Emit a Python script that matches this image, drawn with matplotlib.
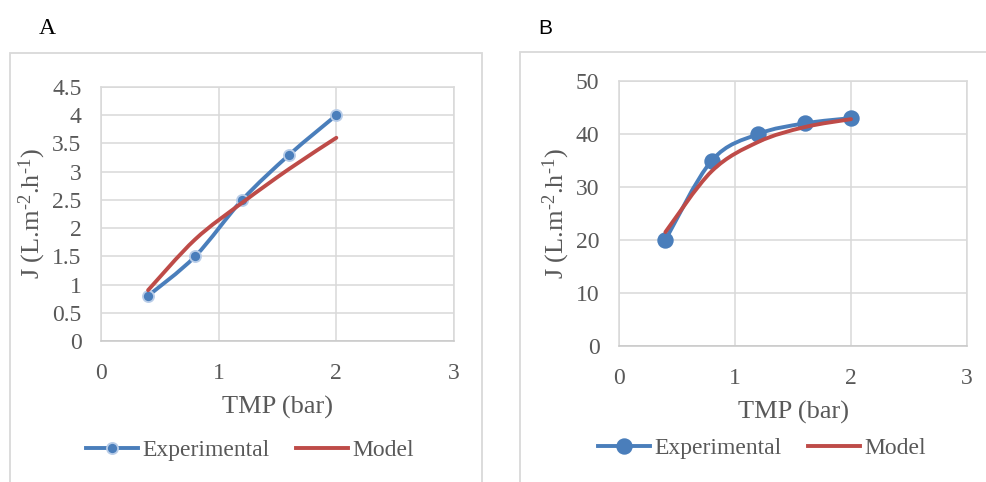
import matplotlib
matplotlib.use("Agg")
import matplotlib.pyplot as plt
from matplotlib.path import Path
from matplotlib.patches import PathPatch, Rectangle
from matplotlib.lines import Line2D

# data
tmp = [0.4, 0.8, 1.2, 1.6, 2.0]
flux_exp_a = [0.8, 1.5, 2.5, 3.3, 4.0]
flux_model_a = [0.9, 1.8, 2.45, 3.05, 3.6]
flux_exp_b = [20, 35, 40, 42, 43]
flux_model_b = [21.5, 33, 38.5, 41.3, 42.8]

yticks_a = [0, 0.5, 1, 1.5, 2, 2.5, 3, 3.5, 4, 4.5]
yticklabels_a = ["0", "0.5", "1", "1.5", "2", "2.5", "3", "3.5", "4", "4.5"]
yticks_b = [0, 10, 20, 30, 40, 50]
xticks = [0, 1, 2, 3]

blue = "#4a7ebb"
red = "#be4b48"
grid_gray = "#d9d9d9"
text_gray = "#595959"

plt.rcParams["font.family"] = ["Liberation Serif", "DejaVu Serif"]
plt.rcParams["mathtext.fontset"] = "custom"
plt.rcParams["mathtext.rm"] = "Liberation Serif"
plt.rcParams["mathtext.it"] = "Liberation Serif:italic"

W, H = 986, 482
fig = plt.figure(figsize=(W / 100, H / 100), dpi=100)


def px_box(l, t, r, b):
    # pixel box -> figure fraction [left, bottom, width, height]
    return [l / W, 1 - b / H, (r - l) / W, (b - t) / H]


def smooth_path(xs, ys):
    # excel style smoothed line, catmull-rom segments as cubic beziers
    pts = list(zip(xs, ys))
    n = len(pts)
    verts = [pts[0]]
    codes = [Path.MOVETO]
    for i in range(n - 1):
        p0 = pts[max(i - 1, 0)]
        p1 = pts[i]
        p2 = pts[i + 1]
        p3 = pts[min(i + 2, n - 1)]
        c1 = (p1[0] + (p2[0] - p0[0]) / 6, p1[1] + (p2[1] - p0[1]) / 6)
        c2 = (p2[0] - (p3[0] - p1[0]) / 6, p2[1] - (p3[1] - p1[1]) / 6)
        verts += [c1, c2, p2]
        codes += [Path.CURVE4] * 3
    return Path(verts, codes)


def panel(rect, frame, exp, model, yticks, ylabels, ymax, msize, medge,
          ylab_x, xlab_y, ypad, xpad, leg_xy):
    # outer chart frame
    l, t, r, b = frame
    fig.patches.append(Rectangle((l / W, 1 - b / H), (r - l) / W, (b - t) / H,
                                 transform=fig.transFigure, fill=False,
                                 edgecolor=grid_gray, lw=1.3, clip_on=False))
    ax = fig.add_axes(px_box(*rect))
    ax.set_xlim(0, 3)
    ax.set_ylim(0, ymax)
    ax.set_xticks(xticks)
    ax.set_yticks(yticks)
    ax.set_yticklabels(ylabels)
    ax.grid(True, color=grid_gray, lw=1.1)
    ax.set_axisbelow(True)
    for s in ax.spines.values():
        s.set_color(grid_gray)
        s.set_linewidth(1.1)
    ax.spines["bottom"].set_color("#c8c8c8")
    ax.tick_params(length=0, labelsize=17, colors=text_gray)
    ax.tick_params(axis="y", pad=ypad)
    ax.tick_params(axis="x", pad=xpad)

    lw = 2.8
    ax.add_patch(PathPatch(smooth_path(tmp, exp), facecolor="none",
                           edgecolor=blue, lw=lw, capstyle="round", zorder=3))
    ax.plot(tmp, exp, "o", ms=msize, color=blue, mec=medge, mew=1.3,
            zorder=4, clip_on=False)
    ax.add_patch(PathPatch(smooth_path(tmp, model), facecolor="none",
                           edgecolor=red, lw=lw, capstyle="round", zorder=5))

    ax.set_xlabel("TMP (bar)", fontsize=19, color=text_gray, va="center")
    ax.xaxis.set_label_coords(0.5, xlab_y)
    ax.set_ylabel(r"J (L.m$^{\text{-}2}$.h$^{\text{-}1}$)", fontsize=19,
                  color=text_gray, va="center")
    ax.yaxis.set_label_coords(ylab_x, 0.5)

    handles = [Line2D([], [], color=blue, lw=lw, marker="o", ms=msize,
                      mec=medge, mew=1.3),
               Line2D([], [], color=red, lw=lw)]
    fig.legend(handles, ["Experimental", "Model"], loc="center",
               bbox_to_anchor=(leg_xy[0] / W, 1 - leg_xy[1] / H), ncol=2,
               frameon=False, fontsize=17, handlelength=2.2,
               handletextpad=0.2, columnspacing=1.1, labelcolor=text_gray)
    return ax


ax_a = panel((101, 87, 454, 341), (10, 53, 482, 495), flux_exp_a,
             flux_model_a, yticks_a, yticklabels_a, 4.5, 8, "#b9cde8",
             -0.195, -0.26, 14, 16, (250, 450))
ax_b = panel((619, 81, 967, 346), (520, 52, 1000, 495), flux_exp_b,
             flux_model_b, yticks_b, [str(v) for v in yticks_b], 50, 10.5,
             blue, -0.18, -0.25, 14, 16, (762, 448))

fig.text(47 / W, 1 - 28 / H, "A", fontsize=17, color="black",
         ha="center", va="center")
fig.text(545 / W, 1 - 28 / H, "B", fontsize=15, color="black",
         ha="center", va="center", family=["Liberation Sans", "DejaVu Sans"])

fig.savefig("out.png", dpi=100, facecolor="white")
